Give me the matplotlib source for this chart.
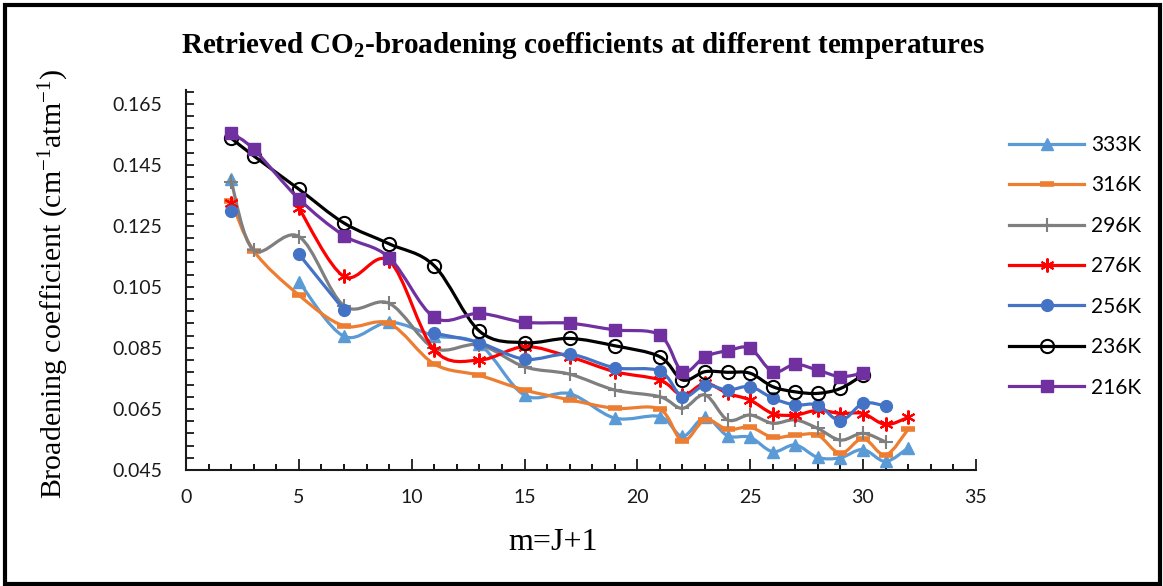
import numpy as np
import matplotlib
matplotlib.use("Agg")
import matplotlib.pyplot as plt
from matplotlib.path import Path
from matplotlib.patches import PathPatch, Rectangle
from matplotlib.lines import Line2D

# Rotational index m = J + 1
m = [2, 3, 5, 7, 9, 11, 13, 15, 17, 19, 21, 22, 23, 24, 25, 26, 27, 28, 29, 30, 31, 32]
nan = np.nan

# Broadening coefficients (cm^-1 atm^-1) per temperature; nan = not retrieved
b_333 = [0.1405, nan, 0.1067, 0.0888, 0.0934, 0.0890, 0.0862, 0.0695, 0.0700, 0.0620, 0.0625,
         0.0560, 0.0622, 0.0562, 0.0557, 0.0510, 0.0532, 0.0491, 0.0490, 0.0517, 0.0478, 0.0522]
b_316 = [0.1332, 0.1168, 0.1023, 0.0922, 0.0930, 0.0797, 0.0760, 0.0712, 0.0680, 0.0652, 0.0649,
         0.0545, 0.0614, 0.0583, 0.0590, 0.0557, 0.0564, 0.0564, 0.0504, 0.0553, 0.0499, 0.0583]
b_296 = [0.1395, 0.1170, 0.1215, 0.0988, 0.0996, 0.0849, 0.0860, 0.0788, 0.0764, 0.0712, 0.0690,
         0.0652, 0.0696, 0.0614, 0.0630, 0.0603, 0.0614, 0.0586, 0.0548, 0.0570, 0.0542, nan]
b_276 = [0.1325, nan, 0.1308, 0.1084, 0.1135, 0.0843, 0.0810, 0.0854, 0.0821, 0.0772, 0.0745,
         0.0695, 0.0734, 0.0701, 0.0679, 0.0635, 0.0630, 0.0646, 0.0635, 0.0635, 0.0599, 0.0622]
b_256 = [0.1299, nan, 0.1157, 0.0974, nan, 0.0898, 0.0867, 0.0813, 0.0829, 0.0785, 0.0774,
         0.0690, 0.0728, 0.0712, 0.0723, 0.0685, 0.0663, 0.0663, 0.0611, 0.0668, 0.0660, nan]
b_236 = [0.1537, 0.1479, 0.1370, 0.1259, 0.1191, 0.1119, 0.0905, 0.0867, 0.0881, 0.0857, 0.0821,
         0.0745, 0.0772, 0.0770, 0.0767, 0.0723, 0.0706, 0.0701, 0.0717, 0.0761, nan, nan]
b_216 = [0.1554, 0.1501, 0.1338, 0.1218, 0.1146, 0.0950, 0.0963, 0.0934, 0.0931, 0.0909, 0.0892,
         0.0772, 0.0821, 0.0841, 0.0849, 0.0772, 0.0796, 0.0777, 0.0756, 0.0767, nan, nan]

labels = ["333K", "316K", "296K", "276K", "256K", "236K", "216K"]
series = [b_333, b_316, b_296, b_276, b_256, b_236, b_216]
colors = ["#5B9BD5", "#ED7D31", "#7F7F7F", "#FF0000", "#4472C4", "#000000", "#7030A0"]
asterisk = (6, 2, 0)
styles = [
    dict(marker="^", ms=8.5, mfc="#5B9BD5", mec="#5B9BD5", mew=1),
    dict(marker="_", ms=10, mfc="#ED7D31", mec="#ED7D31", mew=4),
    dict(marker="+", ms=10, mfc="#7F7F7F", mec="#7F7F7F", mew=1.5),
    dict(marker=asterisk, ms=10, mfc="#FF0000", mec="#FF0000", mew=1.5),
    dict(marker="o", ms=8.5, mfc="#4472C4", mec="#4472C4", mew=1),
    dict(marker="o", ms=9.5, mfc="none", mec="#000000", mew=1.5),
    dict(marker="s", ms=9, mfc="#7030A0", mec="#7030A0", mew=1),
]

plt.rcParams["mathtext.fontset"] = "custom"
plt.rcParams["mathtext.rm"] = "Liberation Serif"
plt.rcParams["mathtext.it"] = "Liberation Serif:italic"
plt.rcParams["mathtext.bf"] = "Liberation Serif:bold"

SANS = "Lato"
SERIF = "Liberation Serif"


def smooth_path(xs, ys):
    """Smoothed (Catmull-Rom style Bezier) path through the given points."""
    pts = np.column_stack([xs, ys]).astype(float)
    n = len(pts)
    verts = [pts[0]]
    codes = [Path.MOVETO]
    for i in range(n - 1):
        p0 = pts[i - 1] if i > 0 else pts[i]
        p1 = pts[i]
        p2 = pts[i + 1]
        p3 = pts[i + 2] if i + 2 < n else pts[i + 1]
        c1 = p1 + (p2 - p0) / 6.0
        c2 = p2 - (p3 - p1) / 6.0
        verts += [c1, c2, p2]
        codes += [Path.CURVE4] * 3
    return Path(verts, codes)


def runs(xs, ys):
    """Split a series into contiguous runs without missing values."""
    out, cur = [], []
    for x, y in zip(xs, ys):
        if np.isnan(y):
            if cur:
                out.append(cur)
            cur = []
        else:
            cur.append((x, y))
    if cur:
        out.append(cur)
    return out


fig = plt.figure(figsize=(11.63, 5.86), dpi=100)
ax = fig.add_axes([0.160, 0.198, 0.679, 0.6484])

LW = 2.3
for k, (vals, col, st) in enumerate(zip(series, colors, styles)):
    z = 3 + k
    for seg in runs(m, vals):
        if len(seg) > 1:
            sx, sy = zip(*seg)
            ax.add_patch(PathPatch(smooth_path(sx, sy), fill=False, edgecolor=col,
                                   lw=LW, zorder=z, capstyle="round", joinstyle="round"))
    ax.plot(m, vals, linestyle="none", zorder=z + 0.5, **st)

ax.set_xlim(0, 35)
ax.set_ylim(0.045, 0.1695)
ax.set_xticks(np.arange(0, 36, 5))
ax.set_xticks(np.arange(0, 36, 1), minor=True)
ax.set_yticks(np.arange(0.045, 0.166, 0.02))
ax.set_yticks(np.arange(0.045, 0.1695, 0.004), minor=True)
ax.set_yticklabels([f"{v:.3f}" for v in np.arange(0.045, 0.166, 0.02)])

for s in ("top", "right"):
    ax.spines[s].set_visible(False)
for s in ("left", "bottom"):
    ax.spines[s].set_linewidth(1.5)
    ax.spines[s].set_color("#1a1a1a")

ax.tick_params(axis="x", which="major", direction="in", length=8, width=1.3, pad=14,
               labelsize=14, colors="#1a1a1a")
ax.tick_params(axis="x", which="minor", direction="in", length=4.5, width=1.3)
ax.tick_params(axis="y", which="both", direction="in", length=5.5, width=1.3, pad=17,
               labelsize=14, colors="#1a1a1a")
for lab in ax.get_xticklabels() + ax.get_yticklabels():
    lab.set_fontfamily(SANS)

fig.text(0.501, 0.923, r"Retrieved CO$_{\mathbf{2}}$-broadening coefficients at different temperatures",
         ha="center", va="center", fontsize=21, fontweight="bold", family=SERIF)
fig.text(0.046, 0.515, r"Broadening coefficient (cm$^{-1}$atm$^{-1}$)", rotation=90,
         ha="center", va="center", fontsize=21.5, family=SERIF)
fig.text(0.476, 0.075, "m=J+1", ha="center", va="center", fontsize=23, family=SERIF)

handles = [Line2D([], [], color=c, lw=LW, **st) for c, st in zip(colors, styles)]
fig.legend(handles, labels, loc="upper left", bbox_to_anchor=(1009 / 1163, 1 - 135 / 586),
           frameon=False, handlelength=3.6, handletextpad=0.35, labelspacing=0.98,
           prop={"family": SANS, "size": 15}, borderaxespad=0, borderpad=0)

fig.patches.append(Rectangle((5 / 1163, 2 / 586), 1154.5 / 1163, 579 / 586,
                             transform=fig.transFigure, fill=False, edgecolor="black",
                             linewidth=3, zorder=10))

fig.savefig("out.png", dpi=100, facecolor="white")
